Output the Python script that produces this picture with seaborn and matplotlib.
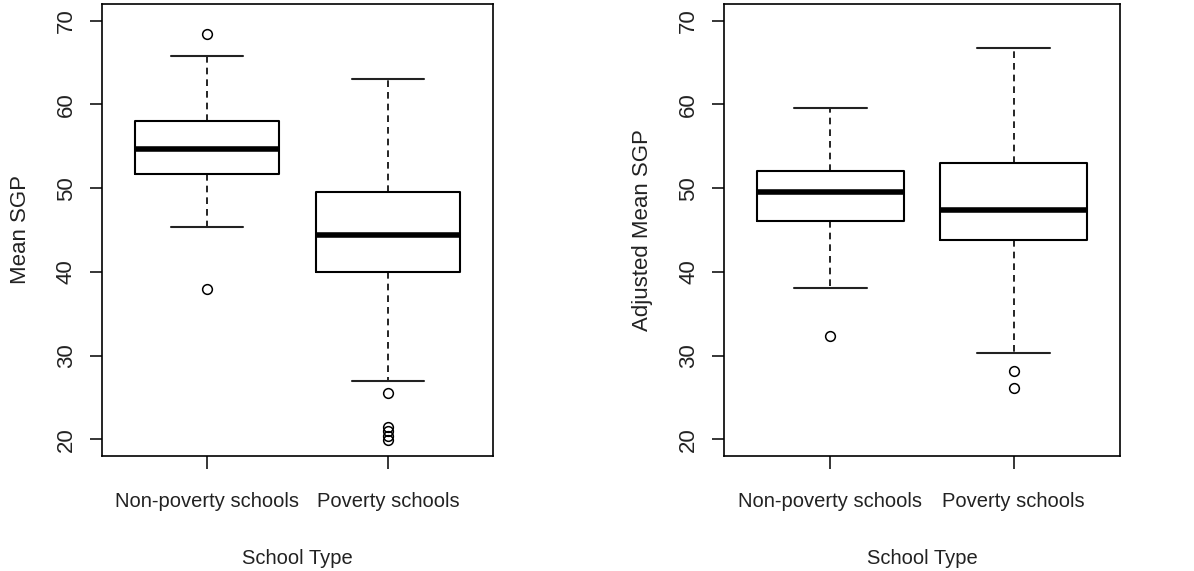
import matplotlib
matplotlib.use('Agg')
import matplotlib.pyplot as plt
import seaborn as sns

sns.set_style('white')
plt.rcParams['font.family'] = ['Liberation Sans', 'DejaVu Sans']

# five-number summaries
school_types = ['Non-poverty schools', 'Poverty schools']

mean_whislo = [45.3, 27.0]
mean_q1 = [51.65, 40.0]
mean_med = [54.7, 44.4]
mean_q3 = [58.0, 49.5]
mean_whishi = [65.8, 63.0]
mean_fliers = [[68.4, 37.9], [25.5, 21.5, 21.0, 20.4, 19.9]]

adj_whislo = [38.1, 30.35]
adj_q1 = [46.05, 43.8]
adj_med = [49.5, 47.4]
adj_q3 = [52.0, 53.05]
adj_whishi = [59.6, 66.8]
adj_fliers = [[32.3], [28.2, 26.1]]

y_ticks = [20, 30, 40, 50, 60, 70]


def make_stats(lo, q1, med, q3, hi, fl):
    return [dict(label=school_types[i], whislo=lo[i], q1=q1[i], med=med[i],
                 q3=q3[i], whishi=hi[i], fliers=fl[i]) for i in range(len(school_types))]


def draw(ax, stats, ylabel):
    ax.bxp(stats, positions=[1, 2], widths=0.8, showfliers=True,
           boxprops=dict(color='black', linewidth=1.5),
           medianprops=dict(color='black', linewidth=4),
           whiskerprops=dict(color='black', linewidth=1.2, linestyle=(0, (4, 3))),
           capprops=dict(color='#222222', linewidth=1.5),
           capwidths=0.4,
           flierprops=dict(marker='o', markerfacecolor='none', markeredgecolor='black',
                           markersize=7, markeredgewidth=1.1))
    ax.set_xlim(0.42, 2.58)
    ax.set_ylim(18, 72)
    ax.set_yticks(y_ticks)
    ax.set_yticklabels([str(t) for t in y_ticks], rotation=90, va='center', fontsize=16)
    ax.set_xticks([1, 2])
    ax.set_xticklabels(school_types, fontsize=14.5)
    ax.tick_params(axis='both', direction='out', length=9, width=1.1, color='black',
                   labelcolor='#222222', left=True, bottom=True)
    ax.tick_params(axis='y', pad=9)
    ax.tick_params(axis='x', pad=17)
    for s in ax.spines.values():
        s.set_color('black')
        s.set_linewidth(1.2)
    ax.set_xlabel('School Type', fontsize=14.5, color='#222222', labelpad=27)
    ax.set_ylabel(ylabel, fontsize=16, color='#222222', labelpad=18)


fig = plt.figure(figsize=(11.94, 5.71), dpi=100)
ax1 = fig.add_axes([0.0854, 0.2014, 0.3275, 0.7916])
ax2 = fig.add_axes([0.6064, 0.2014, 0.3317, 0.7916])

draw(ax1, make_stats(mean_whislo, mean_q1, mean_med, mean_q3, mean_whishi, mean_fliers), 'Mean SGP')
draw(ax2, make_stats(adj_whislo, adj_q1, adj_med, adj_q3, adj_whishi, adj_fliers), 'Adjusted Mean SGP')

fig.savefig('out.png', dpi=100)
